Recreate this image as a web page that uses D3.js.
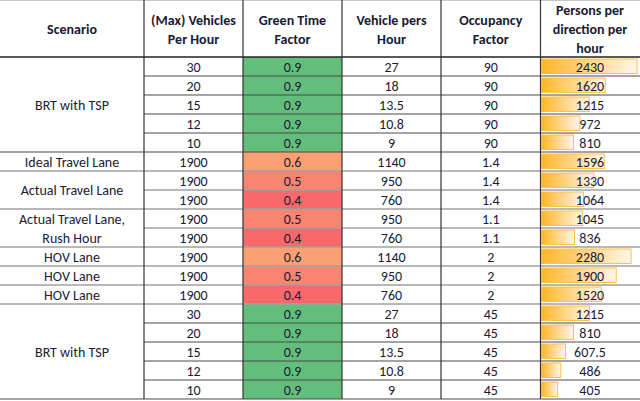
<!DOCTYPE html>
<html>
<head>
<meta charset="utf-8">
<script src="https://cdn.jsdelivr.net/npm/d3@7"></script>
<style>
  html, body { margin: 0; padding: 0; background: #fff; }
  svg { display: block; font-family: Carlito, Lato, "Noto Sans", sans-serif; }
  .hdr { font-weight: bold; font-size: 14px; fill: #1a1a33; }
  .cell { font-size: 14px; fill: #1a1a33; }
</style>
</head>
<body>
<script>
const headers = [
  ["Scenario"],
  ["(Max) Vehicles", "Per Hour"],
  ["Green Time", "Factor"],
  ["Vehicle pers", "Hour"],
  ["Occupancy", "Factor"],
  ["Persons per", "direction per", "hour"]
]
// scenario label blocks (label lines, number of rows spanned)
const scenarios = [
  { lines: ["BRT with TSP"], span: 5 },
  { lines: ["Ideal Travel Lane"], span: 1 },
  { lines: ["Actual Travel Lane"], span: 2 },
  { lines: ["Actual Travel Lane,", "Rush Hour"], span: 2 },
  { lines: ["HOV Lane"], span: 1 },
  { lines: ["HOV Lane"], span: 1 },
  { lines: ["HOV Lane"], span: 1 },
  { lines: ["BRT with TSP"], span: 5 }
]
const maxVehicles = [30, 20, 15, 12, 10, 1900, 1900, 1900, 1900, 1900, 1900, 1900, 1900, 30, 20, 15, 12, 10]
const greenTime = [0.9, 0.9, 0.9, 0.9, 0.9, 0.6, 0.5, 0.4, 0.5, 0.4, 0.6, 0.5, 0.4, 0.9, 0.9, 0.9, 0.9, 0.9]
const vehiclesPerHour = [27, 18, 13.5, 10.8, 9, 1140, 950, 760, 950, 760, 1140, 950, 760, 27, 18, 13.5, 10.8, 9]
const occupancy = [90, 90, 90, 90, 90, 1.4, 1.4, 1.4, 1.1, 1.1, 2, 2, 2, 45, 45, 45, 45, 45]
const persons = [2430, 1620, 1215, 972, 810, 1596, 1330, 1064, 1045, 836, 2280, 1900, 1520, 1215, 810, 607.5, 486, 405]

// ---- layout ----
const W = 640, H = 401
const headerH = 57
const colEdges = [0, 144, 243, 342, 441, 540.5, 639.5]
const nRows = persons.length

const svg = d3.select('body').append('svg').attr('width', W).attr('height', H)

const y = d3.scaleBand().domain(d3.range(nRows)).range([headerH, headerH + nRows * 19]).paddingInner(0)
const colMid = i => (colEdges[i] + colEdges[i + 1]) / 2

// colour scale like the spreadsheet's 3-colour rule
const color = d3.scaleLinear()
  .domain([0.4, 0.88, 0.9])
  .range(['#f8696b', '#ffeb84', '#63be7b'])
  .interpolate(d3.interpolateRgb)

// data bar scale
const barX = d3.scaleLinear().domain([0, d3.max(persons)]).range([colEdges[5] + 1.2, 637])

const defs = svg.append('defs')
const grad = defs.append('linearGradient').attr('id', 'bargrad')
  .attr('gradientUnits', 'objectBoundingBox').attr('x1', 0).attr('x2', 1).attr('y1', 0).attr('y2', 0)
grad.append('stop').attr('offset', '0%').attr('stop-color', '#ffb628')
grad.append('stop').attr('offset', '100%').attr('stop-color', '#fff6ea')

// green time fills
svg.append('g').selectAll('rect').data(greenTime).join('rect')
  .attr('x', colEdges[2]).attr('y', (d, i) => y(i))
  .attr('width', colEdges[3] - colEdges[2]).attr('height', y.bandwidth())
  .attr('fill', d => color(d))

// data bars
svg.append('g').selectAll('rect').data(persons).join('rect')
  .attr('x', barX(0)).attr('y', (d, i) => y(i) + 2)
  .attr('width', d => barX(d) - barX(0)).attr('height', y.bandwidth() - 4.5)
  .attr('fill', 'url(#bargrad)')
  .attr('stroke', '#ffc04a').attr('stroke-width', 1)

// grid lines
const grid = svg.append('g')
// which rows belong to the BRT blocks (darker lines there)
let starts = [], acc = 0
scenarios.forEach(s => { starts.push(acc); acc += s.span })
const blockOf = d3.range(nRows).map(i => d3.bisectRight(starts, i) - 1)
const isBRT = i => scenarios[blockOf[i]].span === 5

grid.append('line').attr('x1', 0).attr('x2', W).attr('y1', 0.5).attr('y2', 0.5)
  .attr('stroke', '#c8c8c8').attr('stroke-width', 1)

d3.range(nRows).forEach(i => {
  const yy = y(i) + y.bandwidth()
  const blockEnd = i === nRows - 1 || blockOf[i + 1] !== blockOf[i]
  const dark = isBRT(i) && (i === nRows - 1 || isBRT(i + 1) || !blockEnd) || (blockEnd && i === 4)
  grid.append('line')
    .attr('x1', blockEnd ? 0 : colEdges[1]).attr('x2', W)
    .attr('y1', yy).attr('y2', yy)
    .attr('stroke', dark ? '#4a4a4a' : '#a0a0a0')
    .attr('stroke-width', dark ? 1.2 : 1.6)
})

grid.append('line').attr('x1', 0).attr('x2', W).attr('y1', headerH).attr('y2', headerH)
  .attr('stroke', '#222').attr('stroke-width', 1.3)

colEdges.slice(1, 6).forEach(x => {
  grid.append('line').attr('x1', x).attr('x2', x).attr('y1', 0).attr('y2', y.range()[1])
    .attr('stroke', '#333').attr('stroke-width', 1.2)
})

// header text
headers.forEach((lines, c) => {
  const lh = 19
  const y0 = headerH / 2 + 1 - (lines.length - 1) * lh / 2
  const t = svg.append('text').attr('class', 'hdr').attr('text-anchor', 'middle')
  lines.forEach((ln, k) => {
    t.append('tspan').attr('x', colMid(c)).attr('y', y0 + k * lh).attr('dy', '0.35em').text(ln)
  })
})

// scenario labels
scenarios.forEach((s, b) => {
  const top = y(starts[b]), h = s.span * y.bandwidth()
  const lh = 19
  const y0 = top + h / 2 - (s.lines.length - 1) * lh / 2
  const t = svg.append('text').attr('class', 'cell').attr('text-anchor', 'middle')
  s.lines.forEach((ln, k) => {
    t.append('tspan').attr('x', colMid(0)).attr('y', y0 + k * lh).attr('dy', '0.36em').text(ln)
  })
})

// numeric columns
const columns = [maxVehicles, greenTime, vehiclesPerHour, occupancy, persons]
columns.forEach((vals, k) => {
  const c = k + 1
  svg.append('g').selectAll('text').data(vals).join('text')
    .attr('class', 'cell').attr('text-anchor', 'middle')
    .attr('x', colMid(c)).attr('y', (d, i) => y(i) + y.bandwidth() / 2).attr('dy', '0.38em')
    .text(d => String(d))
})
</script>
</body>
</html>
